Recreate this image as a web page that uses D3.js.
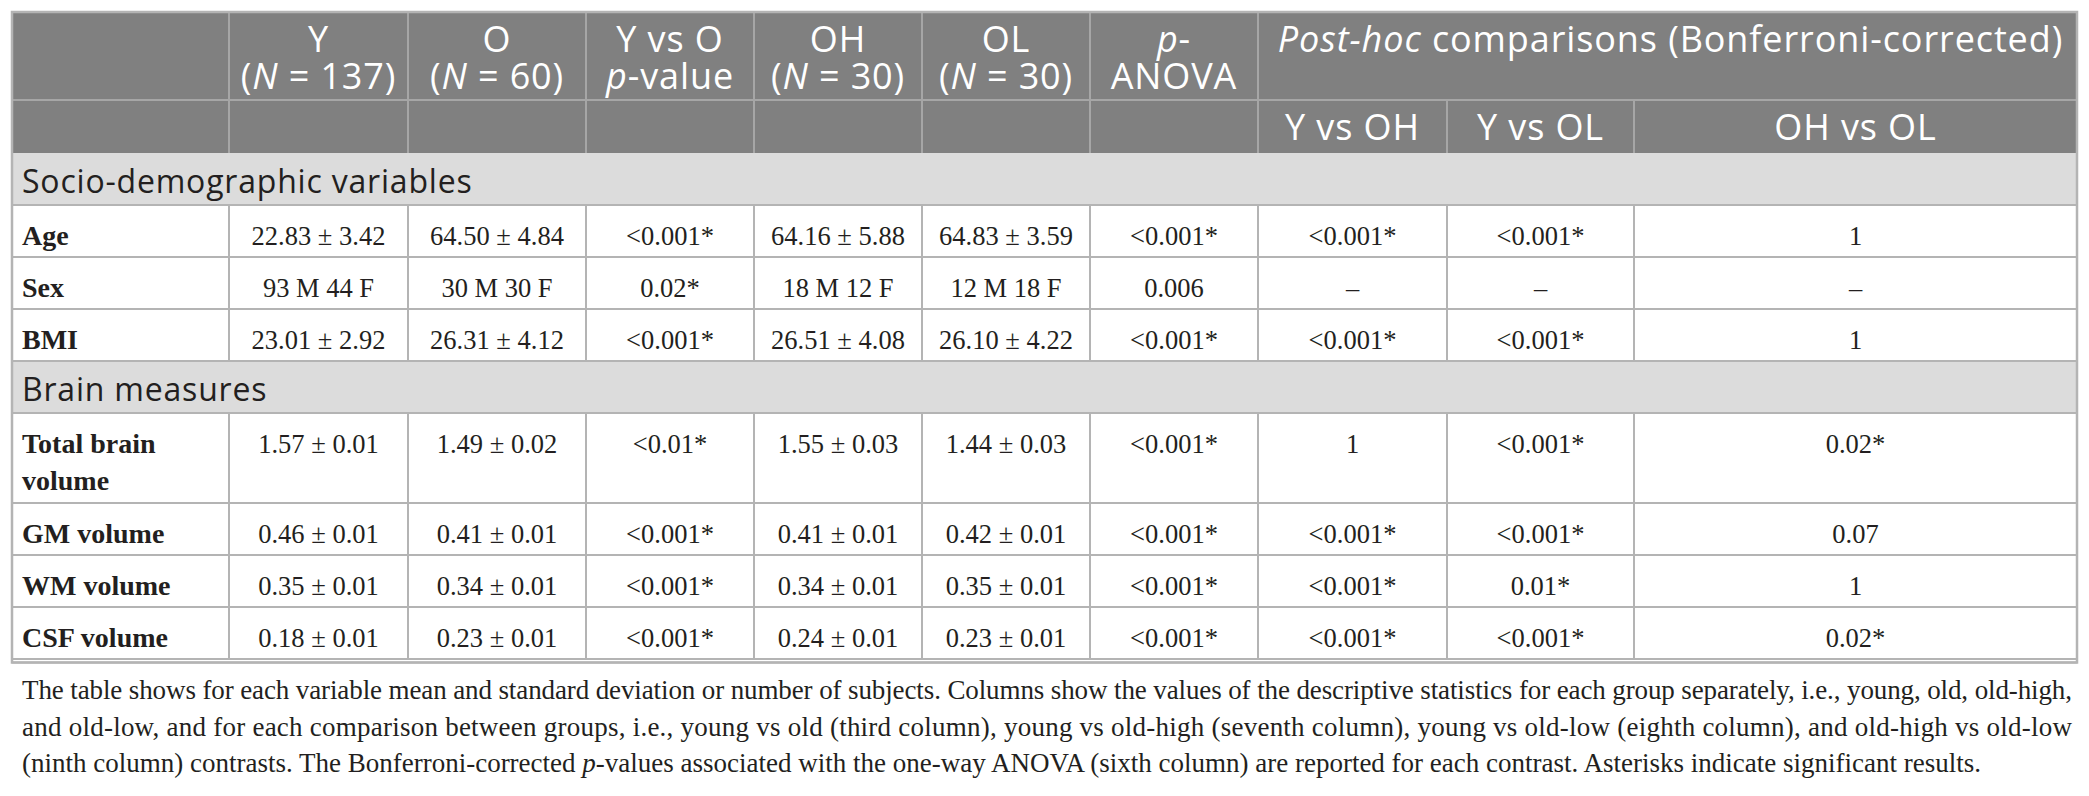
<!DOCTYPE html>
<html>
<head>
<meta charset="utf-8">
<script src="https://cdn.jsdelivr.net/npm/d3@7"></script>
<style>
  body { margin: 0; background: #fff; }
  svg { display: block; }
</style>
</head>
<body>
<div id="table"></div>
<script>
// Table contents, one array per column. "_x_" marks italic text.
const colKeys = ["label", "Y", "O", "YvsO", "OH", "OL", "anova", "YvsOH", "YvsOL", "OHvsOL"];
const headTop = ["", "Y|(_N_ = 137)", "O|(_N_ = 60)", "Y vs O|_p_-value", "OH|(_N_ = 30)", "OL|(_N_ = 30)", "_p_-|ANOVA"];
const postHocTitle = "_Post-hoc_ comparisons (Bonferroni-corrected)";
const postHocCols = ["Y vs OH", "Y vs OL", "OH vs OL"];

const sectionNames = ["Socio-demographic variables", "Brain measures"];
const rowSection = [0, 0, 0, 1, 1, 1, 1];
const rowLabels = ["Age", "Sex", "BMI", "Total brain volume", "GM volume", "WM volume", "CSF volume"];

const colY = ["22.83 ± 3.42", "93 M 44 F", "23.01 ± 2.92", "1.57 ± 0.01", "0.46 ± 0.01", "0.35 ± 0.01", "0.18 ± 0.01"];
const colO = ["64.50 ± 4.84", "30 M 30 F", "26.31 ± 4.12", "1.49 ± 0.02", "0.41 ± 0.01", "0.34 ± 0.01", "0.23 ± 0.01"];
const colYvsO = ["<0.001*", "0.02*", "<0.001*", "<0.01*", "<0.001*", "<0.001*", "<0.001*"];
const colOH = ["64.16 ± 5.88", "18 M 12 F", "26.51 ± 4.08", "1.55 ± 0.03", "0.41 ± 0.01", "0.34 ± 0.01", "0.24 ± 0.01"];
const colOL = ["64.83 ± 3.59", "12 M 18 F", "26.10 ± 4.22", "1.44 ± 0.03", "0.42 ± 0.01", "0.35 ± 0.01", "0.23 ± 0.01"];
const colAnova = ["<0.001*", "0.006", "<0.001*", "<0.001*", "<0.001*", "<0.001*", "<0.001*"];
const colYvsOH = ["<0.001*", "–", "<0.001*", "1", "<0.001*", "<0.001*", "<0.001*"];
const colYvsOL = ["<0.001*", "–", "<0.001*", "<0.001*", "<0.001*", "0.01*", "<0.001*"];
const colOHvsOL = ["1", "–", "1", "0.02*", "0.07", "1", "0.02*"];

const captionLines = [
  "The table shows for each variable mean and standard deviation or number of subjects. Columns show the values of the descriptive statistics for each group separately, i.e., young, old, old-high,",
  "and old-low, and for each comparison between groups, i.e., young vs old (third column), young vs old-high (seventh column), young vs old-low (eighth column), and old-high vs old-low",
  "(ninth column) contrasts. The Bonferroni-corrected _p_-values associated with the one-way ANOVA (sixth column) are reported for each contrast. Asterisks indicate significant results."
];

// layout
const W = 2089, H = 796;
const tLeft = 12, tTop = 12;
const colWidths = [217, 179, 178, 168, 168, 168, 168, 189, 187, 443];
const head1H = 88, head2H = 53, sectionH = 52, rowH = 52, lineStep = 37;
const sansFont = "'Open Sans', 'Noto Sans', sans-serif";
const serifFont = "'Liberation Serif', 'DejaVu Serif', serif";

const colLefts = [tLeft, ...d3.cumsum(colWidths).map(d => tLeft + d)];
const xCol = d3.scaleOrdinal().domain(colKeys).range(colLefts.slice(0, -1));
const wCol = d3.scaleOrdinal().domain(colKeys).range(colWidths);
const tRight = colLefts[colLefts.length - 1];

const svg = d3.select("#table").append("svg")
  .attr("width", W)
  .attr("height", H);

// write "_italic_" markup into tspans
function richText(sel, str) {
  str.split("_").forEach((part, i) => {
    if (part === "") return;
    sel.append("tspan")
      .attr("font-style", i % 2 ? "italic" : null)
      .text(part);
  });
}

// wrap a label so it fits its column
function wrapWords(str, maxW, font, size, weight) {
  const probe = svg.append("text")
    .attr("font-family", font).attr("font-size", size).attr("font-weight", weight);
  const words = str.split(" ");
  const lines = [];
  let cur = "";
  words.forEach(w => {
    const test = cur ? cur + " " + w : w;
    probe.text(test);
    if (probe.node().getComputedTextLength() > maxW && cur) {
      lines.push(cur);
      cur = w;
    } else {
      cur = test;
    }
  });
  lines.push(cur);
  probe.remove();
  return lines;
}

// build the row list: section rows followed by their data rows
const valueCols = [colY, colO, colYvsO, colOH, colOL, colAnova, colYvsOH, colYvsOL, colOHvsOL];
const rows = [];
sectionNames.forEach((name, s) => {
  rows.push({ type: "section", label: name });
  rowLabels.forEach((lab, i) => {
    if (rowSection[i] !== s) return;
    const lines = wrapWords(lab, wCol("label") - 24, serifFont, 28, "bold");
    rows.push({ type: "data", label: lab, lines: lines, values: valueCols.map(c => c[i]) });
  });
});
rows.forEach(r => { r.h = r.type === "section" ? sectionH : rowH + (lineStep + 1) * (r.lines.length - 1); });

const bodyTop = tTop + head1H + head2H;
const rowTops = [bodyTop, ...d3.cumsum(rows, r => r.h).map(d => bodyTop + d)];
const yRow = d3.scaleOrdinal().domain(d3.range(rows.length)).range(rowTops);
const bodyBottom = rowTops[rowTops.length - 1];

// header background
svg.append("rect")
  .attr("x", tLeft).attr("y", tTop)
  .attr("width", tRight - tLeft).attr("height", head1H + head2H)
  .attr("fill", "#808080");

// body backgrounds
svg.append("g").selectAll("rect")
  .data(rows)
  .join("rect")
  .attr("x", tLeft)
  .attr("y", (d, i) => yRow(i))
  .attr("width", tRight - tLeft)
  .attr("height", d => d.h)
  .attr("fill", d => d.type === "section" ? "#dcdcdc" : "#ffffff");

// header grid
const headGrid = svg.append("g").attr("stroke", "#a6a6a6").attr("stroke-width", 2);
headGrid.append("line")
  .attr("x1", tLeft).attr("x2", tRight)
  .attr("y1", tTop + head1H).attr("y2", tTop + head1H);
headGrid.selectAll(".hv")
  .data(colKeys.slice(1))
  .join("line")
  .attr("class", "hv")
  .attr("x1", d => xCol(d)).attr("x2", d => xCol(d))
  .attr("y1", d => (d === "YvsOL" || d === "OHvsOL") ? tTop + head1H : tTop)
  .attr("y2", tTop + head1H + head2H);

// header text
const headText = svg.append("g")
  .attr("fill", "#ffffff")
  .attr("font-family", sansFont)
  .attr("font-size", 36)
  .attr("letter-spacing", 0.9)
  .attr("text-anchor", "middle");

headTop.forEach((lab, i) => {
  if (!lab) return;
  const key = colKeys[i];
  lab.split("|").forEach((line, j) => {
    const t = headText.append("text")
      .attr("x", xCol(key) + wCol(key) / 2)
      .attr("y", tTop + 40 + j * 36.5);
    richText(t, line);
  });
});

const phX0 = xCol("YvsOH"), phX1 = tRight;
richText(headText.append("text")
  .attr("x", (phX0 + phX1) / 2 + 3)
  .attr("y", tTop + 40), postHocTitle);

postHocCols.forEach((lab, i) => {
  const key = colKeys[7 + i];
  headText.append("text")
    .attr("x", xCol(key) + wCol(key) / 2)
    .attr("y", tTop + head1H + 40)
    .text(lab);
});

// body grid
const bodyGrid = svg.append("g").attr("stroke", "#b4b4b4").attr("stroke-width", 2);
bodyGrid.selectAll(".hl")
  .data(rows)
  .join("line")
  .attr("class", "hl")
  .attr("x1", tLeft).attr("x2", tRight)
  .attr("y1", (d, i) => yRow(i) + d.h)
  .attr("y2", (d, i) => yRow(i) + d.h);

rows.forEach((r, i) => {
  if (r.type !== "data") return;
  bodyGrid.selectAll(".v" + i)
    .data(colKeys.slice(1))
    .join("line")
    .attr("x1", d => xCol(d)).attr("x2", d => xCol(d))
    .attr("y1", yRow(i)).attr("y2", yRow(i) + r.h);
});

// bottom double rule
svg.append("line")
  .attr("x1", tLeft).attr("x2", tRight)
  .attr("y1", bodyBottom + 3.5).attr("y2", bodyBottom + 3.5)
  .attr("stroke", "#b4b4b4").attr("stroke-width", 2);

// outer frame
svg.append("rect")
  .attr("x", tLeft).attr("y", tTop)
  .attr("width", tRight - tLeft).attr("height", bodyBottom + 3.5 - tTop)
  .attr("fill", "none")
  .attr("stroke", "#b4b4b4")
  .attr("stroke-width", 2.5);

// section labels
svg.append("g").selectAll("text")
  .data(rows.map((r, i) => ({ r, i })).filter(d => d.r.type === "section"))
  .join("text")
  .attr("x", tLeft + 10)
  .attr("y", d => yRow(d.i) + 40)
  .attr("font-family", sansFont)
  .attr("font-size", 32)
  .attr("letter-spacing", 0.8)
  .attr("fill", "#231f20")
  .text(d => d.r.label);

// data rows
const body = svg.append("g").attr("font-family", serifFont).attr("fill", "#231f20");
rows.forEach((r, i) => {
  if (r.type !== "data") return;
  const base = yRow(i) + 40;
  const lab = body.append("text")
    .attr("x", tLeft + 10)
    .attr("y", base)
    .attr("font-size", 28)
    .attr("font-weight", "bold");
  r.lines.forEach((ln, j) => {
    lab.append("tspan").attr("x", tLeft + 10).attr("y", base + j * lineStep).text(ln);
  });
  r.values.forEach((v, j) => {
    const key = colKeys[j + 1];
    body.append("text")
      .attr("x", xCol(key) + wCol(key) / 2)
      .attr("y", base)
      .attr("text-anchor", "middle")
      .attr("font-size", 26.5)
      .text(v);
  });
});

// caption: first two lines justified, last line natural width
const capX = 22, capRight = 2072, capBase = 699, capStep = 36.5;
const cap = svg.append("g")
  .attr("font-family", serifFont)
  .attr("fill", "#231f20");
const probe = cap.append("text").attr("font-size", 24);
richText(probe, captionLines[2]);
const capSize = 24 * 1960 / probe.node().getComputedTextLength();
probe.remove();

captionLines.forEach((line, i) => {
  const t = cap.append("text")
    .attr("x", capX)
    .attr("y", capBase + i * capStep)
    .attr("font-size", capSize);
  if (i < captionLines.length - 1) {
    t.attr("textLength", capRight - capX).attr("lengthAdjust", "spacing");
  }
  richText(t, line);
});
</script>
</body>
</html>
